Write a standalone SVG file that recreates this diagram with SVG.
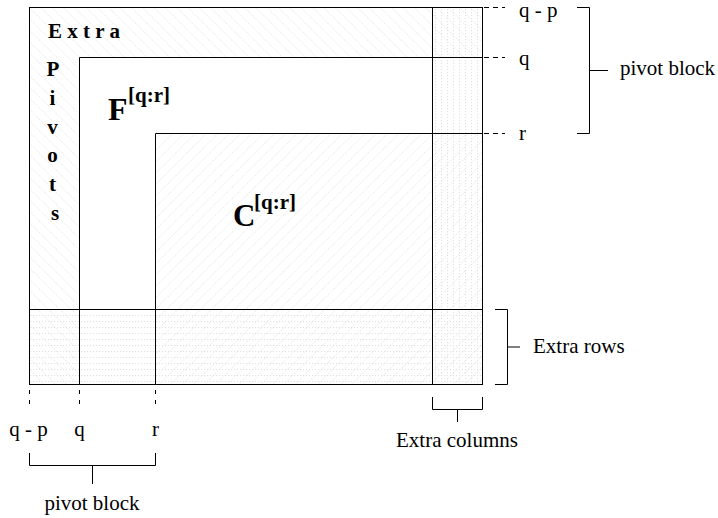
<svg xmlns="http://www.w3.org/2000/svg" width="718" height="518" viewBox="0 0 718 518">
<style>
  .ln { stroke: #000; stroke-width: 1; fill: none; }
  .dash { stroke: #000; stroke-width: 1; stroke-dasharray: 5 4; fill: none; }
  .lbl { font-family: "Liberation Serif", "Times New Roman", serif; font-size: 21px; fill: #000; }
  .bold { font-family: "Liberation Serif", "Times New Roman", serif; font-weight: bold; fill: #000; }
</style>
<defs>
  <pattern id="hatchBack" patternUnits="userSpaceOnUse" width="8" height="8" patternTransform="rotate(45)">
    <line x1="0" y1="0.5" x2="8" y2="0.5" stroke="#dedede" stroke-width="0.7" stroke-dasharray="1 1.5"/>
  </pattern>
  <pattern id="hatchFwd" patternUnits="userSpaceOnUse" width="8" height="8" patternTransform="rotate(-45)">
    <line x1="0" y1="0.5" x2="8" y2="0.5" stroke="#dedede" stroke-width="0.7" stroke-dasharray="1 1.5"/>
  </pattern>
  <pattern id="dotRows" patternUnits="userSpaceOnUse" width="3" height="6">
    <rect x="0" y="3" width="1.2" height="1" fill="#e2e2e2"/>
  </pattern>
  <pattern id="dotCols" patternUnits="userSpaceOnUse" width="6" height="3">
    <rect x="3" y="0" width="1" height="1.2" fill="#e2e2e2"/>
  </pattern>
</defs>
<rect width="718" height="518" fill="#fff"/>

<g id="extra-pivots">
  <rect x="29.5" y="7.5" width="453" height="377" fill="#fff"/>
  <rect x="29.5" y="7.5" width="453" height="377" fill="url(#hatchBack)"/>
  <text class="bold" font-size="21" x="48" y="38">E x t r a</text>
  <text class="bold" font-size="21" text-anchor="middle">
    <tspan x="55" y="76">P</tspan>
    <tspan x="55" y="105">i</tspan>
    <tspan x="55" y="134">v</tspan>
    <tspan x="55" y="162">o</tspan>
    <tspan x="55" y="191">t</tspan>
    <tspan x="55" y="220">s</tspan>
  </text>
</g>

<g id="F-block">
  <rect x="79.5" y="57.5" width="403" height="327" fill="#fff"/>
  <text class="bold"><tspan x="108" y="120" font-size="32">F</tspan><tspan x="128" y="102" font-size="21">[q:r]</tspan></text>
</g>

<g id="C-block">
  <rect x="155.5" y="133.5" width="327" height="251" fill="url(#hatchFwd)"/>
  <text class="bold"><tspan x="233" y="226" font-size="31">C</tspan><tspan x="254" y="209" font-size="21">[q:r]</tspan></text>
</g>

<g id="extra-rows">
  <rect x="29.5" y="309.5" width="453" height="75" fill="url(#dotRows)"/>
</g>

<g id="extra-columns">
  <rect x="432.5" y="7.5" width="50" height="377" fill="url(#dotCols)"/>
</g>

<g id="connectors">
  <rect class="ln" x="29.5" y="7.5" width="453" height="377"/>
  <line class="ln" x1="79.5" y1="57.5" x2="79.5" y2="384.5"/>
  <line class="ln" x1="155.5" y1="133.5" x2="155.5" y2="384.5"/>
  <line class="ln" x1="432.5" y1="7.5" x2="432.5" y2="384.5"/>
  <line class="ln" x1="79.5" y1="57.5" x2="482.5" y2="57.5"/>
  <line class="ln" x1="155.5" y1="133.5" x2="482.5" y2="133.5"/>
  <line class="ln" x1="29.5" y1="309.5" x2="482.5" y2="309.5"/>

  <line class="dash" x1="484" y1="7.5" x2="505" y2="7.5"/>
  <line class="dash" x1="484" y1="57.5" x2="505" y2="57.5"/>
  <line class="dash" x1="484" y1="133.5" x2="505" y2="133.5"/>
  <line class="dash" x1="29.5" y1="390" x2="29.5" y2="405" style="stroke-dasharray:4 6"/>
  <line class="dash" x1="79.5" y1="390" x2="79.5" y2="405" style="stroke-dasharray:4 6"/>
  <line class="dash" x1="155.5" y1="390" x2="155.5" y2="405" style="stroke-dasharray:4 6"/>

  <path class="ln" d="M577 7.5 H589.5 V133.5 H577 M589.5 70.5 H608"/>
  <path class="ln" d="M29.5 453 V465.5 H155.5 V453 M92.5 465.5 V484"/>
  <path class="ln" d="M495 309.5 H507.5 V384.5 H495 M507.5 347 H520"/>
  <path class="ln" d="M432.5 397 V409.5 H482.5 V397 M457.5 409.5 V422"/>
</g>

<g id="labels">
  <text class="lbl" x="519" y="17">q - p</text>
  <text class="lbl" x="519" y="65">q</text>
  <text class="lbl" x="519" y="140">r</text>
  <text class="lbl" x="620" y="75">pivot block</text>
  <text class="lbl" x="28.5" y="436" text-anchor="middle">q - p</text>
  <text class="lbl" x="79.5" y="436" text-anchor="middle">q</text>
  <text class="lbl" x="155.5" y="436" text-anchor="middle">r</text>
  <text class="lbl" x="92" y="510" text-anchor="middle">pivot block</text>
  <text class="lbl" x="533" y="353">Extra rows</text>
  <text class="lbl" x="457" y="447" text-anchor="middle">Extra columns</text>
</g>
</svg>
